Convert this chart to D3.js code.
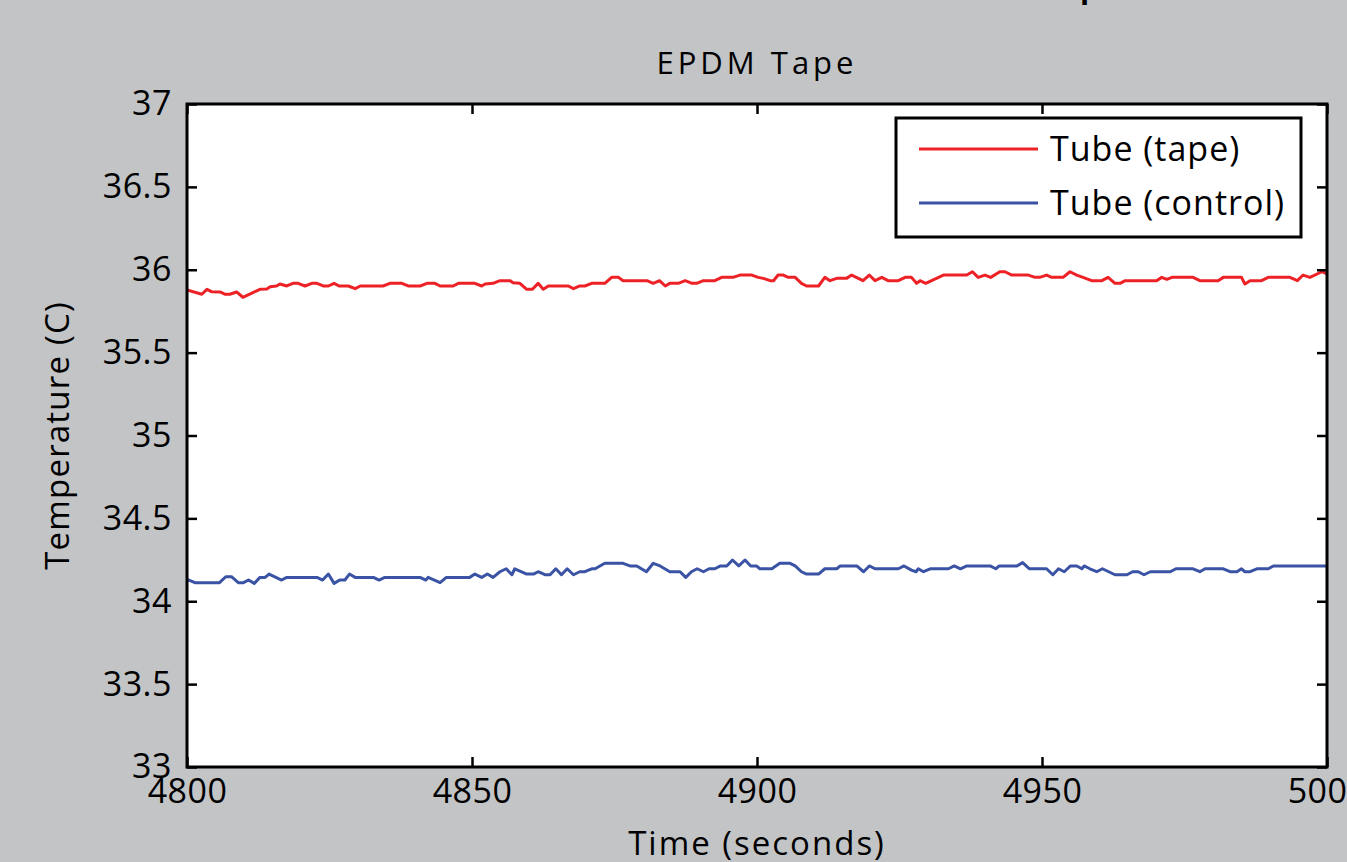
<!DOCTYPE html>
<html>
<head>
<meta charset="utf-8">
<script src="https://cdn.jsdelivr.net/npm/d3@7"></script>
<style>
  html, body { margin: 0; padding: 0; background: #c3c4c6; }
  svg { display: block; }
</style>
</head>
<body>
<div id="chart"></div>
<script>
(function () {

const [WIDTH, HEIGHT] = [1347, 862];
const MARGIN = {left: 187, top: 104, right: 1347 - 1327, bottom: 862 - 767};

const xTicks = [4800, 4850, 4900, 4950, 5000];
const yTicks = [33, 33.5, 34, 34.5, 35, 35.5, 36, 36.5, 37];
const seriesNames = ['Tube (tape)', 'Tube (control)'];
const seriesColors = ['#ed2226', '#3a53a4'];

// Tube (tape)
const tapeTime = [4800.0, 4802.6, 4803.5, 4804.3, 4805.8, 4806.7, 4807.5, 4808.7, 4809.8, 4811.1,
    4812.8, 4814.0, 4814.6, 4815.7, 4816.3, 4817.5, 4818.6, 4819.5, 4820.7, 4821.9,
    4822.8, 4823.9, 4824.8, 4825.8, 4826.7, 4828.3, 4829.5, 4830.4, 4834.4, 4835.6,
    4837.7, 4838.8, 4840.9, 4842.1, 4843.5, 4844.4, 4846.7, 4847.6, 4850.5, 4851.7,
    4852.3, 4853.7, 4854.9, 4856.7, 4857.2, 4858.4, 4859.6, 4860.6, 4861.6, 4862.5,
    4863.4, 4866.9, 4867.8, 4868.9, 4869.8, 4871.0, 4873.3, 4874.5, 4875.7, 4876.5,
    4880.7, 4881.8, 4882.9, 4883.9, 4884.7, 4886.2, 4887.4, 4888.6, 4889.4, 4890.6,
    4892.6, 4893.8, 4895.8, 4897.0, 4899.1, 4900.2, 4901.1, 4902.3, 4902.9, 4903.7,
    4904.6, 4905.5, 4906.7, 4907.8, 4908.7, 4910.8, 4911.9, 4912.8, 4914.0, 4915.7,
    4916.6, 4918.6, 4919.7, 4920.7, 4921.9, 4923.0, 4924.8, 4926.0, 4927.1, 4928.0,
    4928.6, 4929.6, 4932.7, 4935.6, 4936.8, 4937.8, 4938.8, 4940.0, 4941.0, 4942.6,
    4943.5, 4944.7, 4947.6, 4948.8, 4949.6, 4950.8, 4951.7, 4953.7, 4954.9, 4956.1,
    4957.2, 4958.7, 4960.5, 4961.6, 4962.8, 4963.7, 4964.6, 4970.1, 4971.0, 4971.9,
    4972.8, 4976.5, 4977.7, 4980.9, 4981.8, 4985.0, 4985.6, 4986.5, 4988.5, 4989.7,
    4993.5, 4994.8, 4995.8, 4997.0, 4999.1, 5000.5];
const tapeTemp = [35.878, 35.852, 35.882, 35.868, 35.866, 35.852, 35.852, 35.866, 35.834, 35.854,
    35.882, 35.884, 35.898, 35.902, 35.914, 35.902, 35.918, 35.918, 35.902, 35.918,
    35.918, 35.902, 35.902, 35.918, 35.902, 35.902, 35.886, 35.902, 35.902, 35.918,
    35.918, 35.902, 35.902, 35.918, 35.918, 35.902, 35.902, 35.918, 35.918, 35.902,
    35.914, 35.918, 35.934, 35.934, 35.922, 35.918, 35.882, 35.882, 35.918, 35.882,
    35.902, 35.902, 35.886, 35.902, 35.902, 35.918, 35.918, 35.954, 35.954, 35.934,
    35.934, 35.918, 35.934, 35.902, 35.918, 35.918, 35.934, 35.918, 35.918, 35.934,
    35.934, 35.954, 35.954, 35.968, 35.968, 35.954, 35.948, 35.934, 35.934, 35.968,
    35.968, 35.954, 35.954, 35.918, 35.902, 35.902, 35.954, 35.934, 35.948, 35.948,
    35.968, 35.934, 35.968, 35.934, 35.954, 35.934, 35.934, 35.954, 35.954, 35.918,
    35.934, 35.918, 35.968, 35.968, 35.968, 35.988, 35.954, 35.968, 35.954, 35.988,
    35.988, 35.968, 35.968, 35.954, 35.954, 35.968, 35.954, 35.954, 35.988, 35.968,
    35.954, 35.934, 35.934, 35.954, 35.918, 35.918, 35.934, 35.934, 35.954, 35.942,
    35.954, 35.954, 35.934, 35.934, 35.954, 35.954, 35.914, 35.934, 35.934, 35.954,
    35.954, 35.934, 35.968, 35.954, 35.988, 35.968];

// Tube (control)
const controlTime = [4800.0, 4801.4, 4805.7, 4806.8, 4807.8, 4809.0, 4809.9, 4810.8, 4811.8, 4812.8,
    4813.7, 4814.4, 4816.6, 4817.5, 4822.8, 4823.8, 4824.8, 4825.8, 4826.8, 4827.7,
    4828.5, 4829.5, 4832.7, 4833.7, 4834.7, 4840.9, 4841.9, 4842.3, 4844.4, 4845.5,
    4849.6, 4850.5, 4851.7, 4852.7, 4853.7, 4854.9, 4856.0, 4857.0, 4857.5, 4859.6,
    4860.8, 4861.6, 4862.8, 4863.7, 4864.7, 4865.7, 4866.7, 4867.8, 4868.9, 4869.8,
    4871.0, 4871.6, 4873.3, 4876.5, 4877.7, 4878.9, 4880.6, 4881.8, 4883.0, 4884.7,
    4886.5, 4887.5, 4888.5, 4889.5, 4890.6, 4891.6, 4892.6, 4893.6, 4894.7, 4895.7,
    4896.8, 4897.9, 4898.9, 4899.9, 4900.5, 4902.6, 4904.0, 4905.8, 4906.7, 4907.8,
    4908.7, 4910.8, 4911.9, 4914.0, 4914.6, 4917.5, 4918.7, 4919.7, 4920.7, 4924.8,
    4925.8, 4927.1, 4927.9, 4928.3, 4929.2, 4930.4, 4933.6, 4934.6, 4935.7, 4936.8,
    4940.9, 4941.9, 4942.5, 4945.6, 4946.6, 4947.8, 4950.8, 4951.9, 4952.9, 4953.9,
    4955.0, 4956.1, 4957.0, 4957.4, 4958.4, 4959.6, 4960.6, 4962.8, 4964.9, 4965.9,
    4966.9, 4967.9, 4969.0, 4972.5, 4973.5, 4976.5, 4977.7, 4978.6, 4981.8, 4983.0,
    4984.2, 4985.0, 4985.6, 4986.5, 4987.7, 4989.7, 4990.6, 5000.5];
const controlTemp = [34.132, 34.112, 34.112, 34.148, 34.148, 34.112, 34.112, 34.128, 34.108, 34.144,
    34.144, 34.164, 34.128, 34.144, 34.144, 34.128, 34.164, 34.108, 34.128, 34.128,
    34.164, 34.144, 34.144, 34.128, 34.144, 34.144, 34.128, 34.144, 34.112, 34.144,
    34.144, 34.164, 34.144, 34.164, 34.144, 34.178, 34.196, 34.160, 34.196, 34.164,
    34.164, 34.178, 34.160, 34.160, 34.196, 34.160, 34.196, 34.160, 34.178, 34.178,
    34.196, 34.196, 34.229, 34.229, 34.213, 34.213, 34.178, 34.229, 34.213, 34.178,
    34.178, 34.144, 34.178, 34.196, 34.178, 34.196, 34.196, 34.213, 34.213, 34.249,
    34.213, 34.249, 34.213, 34.213, 34.196, 34.196, 34.229, 34.229, 34.213, 34.178,
    34.164, 34.164, 34.196, 34.196, 34.213, 34.213, 34.178, 34.213, 34.196, 34.196,
    34.213, 34.188, 34.178, 34.196, 34.178, 34.196, 34.196, 34.213, 34.196, 34.213,
    34.213, 34.196, 34.213, 34.213, 34.233, 34.196, 34.196, 34.160, 34.196, 34.178,
    34.213, 34.213, 34.196, 34.213, 34.196, 34.178, 34.196, 34.160, 34.160, 34.178,
    34.178, 34.160, 34.178, 34.178, 34.196, 34.196, 34.178, 34.196, 34.196, 34.178,
    34.178, 34.196, 34.178, 34.178, 34.196, 34.196, 34.213, 34.213];

const FONT = '"Open Sans", "Noto Sans", sans-serif';

function render() {
    const svg = d3.select('#chart').append('svg')
        .attr('width', WIDTH)
        .attr('height', HEIGHT)
        .attr('viewBox', `0 0 ${WIDTH} ${HEIGHT}`)
        .style('font-family', FONT);

    const x = d3.scaleLinear()
        .domain([4800, 5000])
        .range([MARGIN.left, WIDTH - MARGIN.right]);
    const y = d3.scaleLinear()
        .domain([33, 37])
        .range([HEIGHT - MARGIN.bottom, MARGIN.top]);

    // cut off text from the figure above
    svg.append('text')
        .attr('x', 1080)
        .attr('y', -2)
        .attr('font-size', 30)
        .attr('font-weight', 'bold')
        .attr('fill', 'black')
        .text('p');

    svg.append('rect')
        .attr('x', x(4800))
        .attr('y', y(37))
        .attr('width', x(5000) - x(4800))
        .attr('height', y(33) - y(37))
        .attr('fill', 'white');

    svg.append('clipPath')
        .attr('id', 'plot-clip')
        .append('rect')
        .attr('x', x(4800))
        .attr('y', y(37))
        .attr('width', x(5000) - x(4800))
        .attr('height', y(33) - y(37));

    const series = [
        tapeTime.map((t, i) => [t, tapeTemp[i]]),
        controlTime.map((t, i) => [t, controlTemp[i]]),
    ];

    const line = d3.line()
        .x((d) => x(d[0]))
        .y((d) => y(d[1]));

    svg.append('g')
        .attr('clip-path', 'url(#plot-clip)')
        .selectAll('path')
        .data(series)
        .enter()
        .append('path')
        .attr('d', line)
        .attr('fill', 'none')
        .attr('stroke', (d, i) => seriesColors[i])
        .attr('stroke-width', 3)
        .attr('stroke-linejoin', 'round');

    // axes: ticks point inward on all four sides
    const styleAxis = (g) => {
        g.select('.domain').remove();
        g.selectAll('line').attr('stroke', 'black').attr('stroke-width', 2.5);
        g.selectAll('text')
            .attr('fill', 'black')
            .attr('font-size', 34)
            .attr('letter-spacing', 0.5)
            .attr('font-family', FONT);
    };

    svg.append('g')
        .attr('transform', `translate(0, ${y(33)})`)
        .call(d3.axisBottom(x).tickValues(xTicks).tickFormat(d3.format('d'))
            .tickSizeInner(-10).tickSizeOuter(0).tickPadding(12))
        .call(styleAxis);
    svg.append('g')
        .attr('transform', `translate(0, ${y(37)})`)
        .call(d3.axisTop(x).tickValues(xTicks).tickFormat('')
            .tickSizeInner(-10).tickSizeOuter(0))
        .call(styleAxis);
    svg.append('g')
        .attr('transform', `translate(${x(4800)}, 0)`)
        .call(d3.axisLeft(y).tickValues(yTicks).tickFormat(d3.format('~g'))
            .tickSizeInner(-10).tickSizeOuter(0).tickPadding(15))
        .call(styleAxis);
    svg.append('g')
        .attr('transform', `translate(${x(5000)}, 0)`)
        .call(d3.axisRight(y).tickValues(yTicks).tickFormat('')
            .tickSizeInner(-10).tickSizeOuter(0))
        .call(styleAxis);

    svg.append('rect')
        .attr('x', x(4800))
        .attr('y', y(37))
        .attr('width', x(5000) - x(4800))
        .attr('height', y(33) - y(37))
        .attr('fill', 'none')
        .attr('stroke', 'black')
        .attr('stroke-width', 3);

    // title and axis labels
    svg.append('text')
        .attr('x', (x(4800) + x(5000)) / 2)
        .attr('y', 74)
        .attr('text-anchor', 'middle')
        .attr('font-size', 31)
        .attr('letter-spacing', 4)
        .text('EPDM Tape');

    svg.append('text')
        .attr('x', (x(4800) + x(5000)) / 2)
        .attr('y', 855)
        .attr('text-anchor', 'middle')
        .attr('font-size', 33)
        .attr('letter-spacing', 2)
        .text('Time (seconds)');

    svg.append('text')
        .attr('transform', `translate(69, ${(y(33) + y(37)) / 2}) rotate(-90)`)
        .attr('text-anchor', 'middle')
        .attr('font-size', 33)
        .attr('letter-spacing', 1.2)
        .text('Temperature (C)');

    // legend
    const legend = svg.append('g')
        .attr('transform', 'translate(896, 118)');
    legend.append('rect')
        .attr('width', 405)
        .attr('height', 119)
        .attr('fill', 'white')
        .attr('stroke', 'black')
        .attr('stroke-width', 3);
    const item = legend.selectAll('.item')
        .data(seriesNames)
        .enter()
        .append('g')
        .attr('class', 'item')
        .attr('transform', (d, i) => `translate(0, ${31 + i * 54})`);
    item.append('line')
        .attr('x1', 23)
        .attr('x2', 142)
        .attr('stroke', (d, i) => seriesColors[i])
        .attr('stroke-width', 3);
    item.append('text')
        .attr('x', 154)
        .attr('y', 0)
        .attr('dy', '0.35em')
        .attr('font-size', 34)
        .attr('letter-spacing', 1)
        .text((d) => d);
}

render();

})();
</script>
</body>
</html>
